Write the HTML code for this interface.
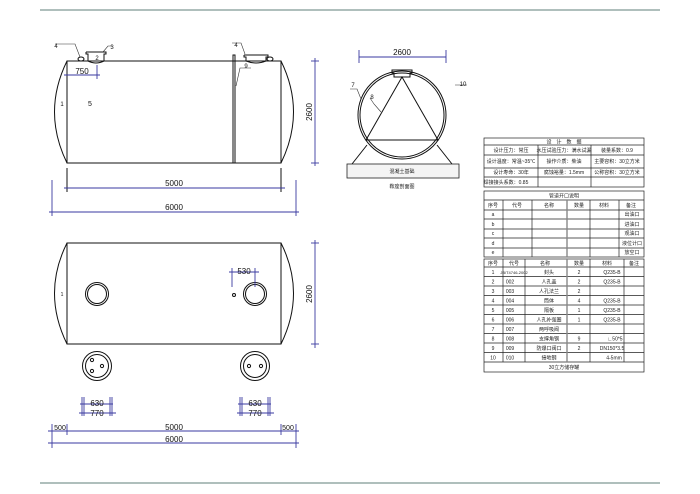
<!DOCTYPE html>
<html><head><meta charset="utf-8"><style>
html,body{margin:0;padding:0;background:#fff;}
svg{display:block;font-family:"Liberation Sans","Noto Sans CJK SC",sans-serif;}
.k{stroke:#111;fill:none;stroke-width:1}
.b{stroke:#3a3aa0;fill:none;stroke-width:0.9}
.t{font-size:5px;fill:#222;text-anchor:middle}
.d{font-size:8px;fill:#111;text-anchor:middle}
.g{stroke:#333;stroke-width:0.6;fill:none}
</style></head><body>
<svg width="700" height="494" viewBox="0 0 700 494">
<line x1="40" y1="10" x2="660" y2="10" stroke="#5f7f7a" stroke-width="1"/>
<line x1="40" y1="483" x2="660" y2="483" stroke="#5f7f7a" stroke-width="1"/>

<!-- TOP TANK -->
<rect class="k" x="67" y="61" width="214" height="102"/>
<path class="k" d="M67 61 Q42 112 67 163 M281 61 Q306 112 281 163"/>
<rect class="k" x="233" y="55" width="2" height="108" fill="#fff"/>
<path class="k" d="M86 52 L106 52 L106 54 L104 54 L104 61 M86 52 L86 54 L88 54 L88 61"/>
<path class="k" d="M88 61 Q96 65 104 61"/>
<ellipse class="k" cx="81" cy="59" rx="3" ry="2"/>
<path class="k" d="M244 55 L268 55 L268 57 L266 57 L266 61 M244 55 L244 57 L246 57 L246 61"/>
<path class="k" d="M246 61 Q256 65 266 61"/>
<ellipse class="k" cx="270" cy="59" rx="3" ry="2"/>
<path class="g" d="M55 44 L75 44 L80 57 M103 52 L108 46 L112 46 M232 43 L241 43 L245 54 M236 86 L240 68 L251 68"/>
<text x="56" y="48" class="d" style="font-size:6px">4</text>
<text x="112" y="49" class="d" style="font-size:6px">3</text>
<text x="97" y="60" class="d" style="font-size:6px">2</text>
<text x="236" y="47" class="d" style="font-size:6px">4</text>
<text x="246" y="68" class="d" style="font-size:6px">9</text>
<text x="62" y="106" class="d" style="font-size:6px">1</text>
<text x="90" y="106" class="d" style="font-size:7px">5</text>
<!-- 750 -->
<line class="b" x1="64" y1="75" x2="100" y2="75"/><line class="b" x1="97" y1="65" x2="97" y2="79"/>
<text x="82" y="74" class="d">750</text>
<!-- 2600 -->
<line class="b" x1="315" y1="58" x2="315" y2="166"/>
<line class="b" x1="311" y1="61" x2="319" y2="61"/><line class="b" x1="311" y1="163" x2="319" y2="163"/>
<text x="0" y="0" class="d" transform="translate(312,112) rotate(-90)">2600</text>
<!-- 5000 / 6000 -->
<line class="k" x1="67" y1="168" x2="67" y2="192" stroke-width="0.6"/><line class="k" x1="281" y1="168" x2="281" y2="192" stroke-width="0.6"/>
<line class="b" x1="64" y1="188" x2="285" y2="188"/>
<text x="174" y="186" class="d">5000</text>
<line class="b" x1="52" y1="180" x2="52" y2="216"/><line class="b" x1="296" y1="180" x2="296" y2="216"/>
<line class="b" x1="49" y1="212" x2="299" y2="212"/>
<text x="174" y="210" class="d">6000</text>

<!-- BOTTOM TANK -->
<rect class="k" x="67" y="243" width="214" height="101"/>
<path class="k" d="M67 243 Q42 293 67 344 M281 243 Q306 293 281 344"/>
<circle class="k" cx="97" cy="294" r="11.5"/><circle class="k" cx="97" cy="294" r="9.5"/>
<circle class="k" cx="255" cy="294" r="11.5"/><circle class="k" cx="255" cy="294" r="9.5"/>
<circle class="k" cx="234" cy="295" r="1.5"/>
<text x="62" y="296" class="d" style="font-size:5px">1</text>
<line class="b" x1="229" y1="272" x2="259" y2="272"/><line class="b" x1="232" y1="268" x2="232" y2="287"/><line class="b" x1="255" y1="268" x2="255" y2="287"/>
<text x="244" y="274" class="d">530</text>
<line class="b" x1="315" y1="240" x2="315" y2="348"/>
<line class="b" x1="311" y1="243" x2="319" y2="243"/><line class="b" x1="311" y1="344" x2="319" y2="344"/>
<text x="0" y="0" class="d" transform="translate(312,294) rotate(-90)">2600</text>
<circle class="k" cx="97" cy="366" r="14.5"/><circle class="k" cx="97" cy="366" r="11.5"/>
<circle class="k" cx="92" cy="360" r="1.6"/><circle class="k" cx="92" cy="371" r="1.6"/><circle class="k" cx="102" cy="366" r="1.6"/>
<circle class="k" cx="255" cy="366" r="14.5"/><circle class="k" cx="255" cy="366" r="11.5"/>
<circle class="k" cx="249" cy="366" r="1.6"/><circle class="k" cx="261" cy="366" r="1.6"/>
<!-- 630/770 left -->
<line class="b" x1="80" y1="404" x2="113" y2="404"/><line class="b" x1="79" y1="413" x2="116" y2="413"/>
<line class="b" x1="82" y1="397" x2="82" y2="416"/><line class="b" x1="84" y1="397" x2="84" y2="416"/>
<line class="b" x1="110" y1="397" x2="110" y2="416"/><line class="b" x1="112" y1="397" x2="112" y2="416"/>
<text x="97" y="406" class="d">630</text><text x="97" y="416" class="d">770</text>
<line class="b" x1="238" y1="404" x2="271" y2="404"/><line class="b" x1="237" y1="413" x2="274" y2="413"/>
<line class="b" x1="240" y1="397" x2="240" y2="416"/><line class="b" x1="242" y1="397" x2="242" y2="416"/>
<line class="b" x1="268" y1="397" x2="268" y2="416"/><line class="b" x1="270" y1="397" x2="270" y2="416"/>
<text x="255" y="406" class="d">630</text><text x="255" y="416" class="d">770</text>
<!-- 500/5000/500/6000 -->
<line class="b" x1="48" y1="431" x2="299" y2="431"/>
<line class="b" x1="52" y1="424" x2="52" y2="448"/><line class="b" x1="67" y1="424" x2="67" y2="435"/>
<line class="b" x1="281" y1="424" x2="281" y2="435"/><line class="b" x1="296" y1="424" x2="296" y2="448"/>
<text x="60" y="430" class="d" style="font-size:7px">500</text>
<text x="288" y="430" class="d" style="font-size:7px">500</text>
<text x="174" y="430" class="d">5000</text>
<line class="b" x1="48" y1="443" x2="299" y2="443"/>
<text x="174" y="442" class="d">6000</text>

<!-- SECTION -->
<line class="b" x1="359" y1="57" x2="446" y2="57"/>
<line class="b" x1="359" y1="50" x2="359" y2="63"/><line class="b" x1="446" y1="50" x2="446" y2="63"/>
<text x="402" y="55" class="d">2600</text>
<circle class="k" cx="402" cy="115" r="44"/><circle class="k" cx="402" cy="115" r="42"/>
<path class="k" d="M392 70 L412 70 L412 73 L410 73 L410 77 L394 77 L394 73 L392 73 Z"/>
<path class="k" d="M402 77 L366 140 L438 140 Z"/>
<path class="k" d="M367 145 L352 164 M437 145 L452 164"/>
<rect x="347" y="164" width="112" height="14" fill="#f4f4f4" stroke="#222" stroke-width="0.8"/>
<text x="402" y="173" class="t">混凝土基础</text>
<text x="402" y="188" class="t">鞍座剖面图</text>
<path class="g" d="M350 89 L357 89 L361 99 M370 98 L374 104 L381 112 M455 85 L467 85"/>
<text x="353" y="87" class="d" style="font-size:6px">7</text>
<text x="372" y="99" class="d" style="font-size:6px">8</text>
<text x="463" y="86" class="d" style="font-size:6px">10</text>

<!-- TABLE 1 -->
<g stroke="#222" stroke-width="0.7" fill="none">
<rect x="484" y="138" width="160" height="49"/>
<line x1="484" y1="145" x2="644" y2="145"/><line x1="484" y1="155" x2="644" y2="155"/>
<line x1="484" y1="168" x2="644" y2="168"/><line x1="484" y1="177" x2="644" y2="177"/>
<line x1="538" y1="145" x2="538" y2="187"/><line x1="591" y1="145" x2="591" y2="187"/>
</g>
<text x="564" y="143.5" class="t">设　计　数　据</text>
<text x="511" y="152" class="t">设计压力：常压</text><text x="564" y="152" class="t">水压试验压力：满水试漏</text><text x="617" y="152" class="t">装量系数：0.9</text>
<text x="511" y="163" class="t">设计温度：常温~35℃</text><text x="564" y="163" class="t">操作介质：柴油</text><text x="617" y="163" class="t">主要容积：30立方米</text>
<text x="511" y="174" class="t">设计寿命：30年</text><text x="564" y="174" class="t">腐蚀裕量：1.5mm</text><text x="617" y="174" class="t">公称容积：30立方米</text>
<text x="506" y="184" class="t">焊接接头系数：0.85</text>

<!-- TABLE 2 -->
<g stroke="#222" stroke-width="0.7" fill="none">
<rect x="484" y="191" width="160" height="66"/>
<line x1="484" y1="200" x2="644" y2="200"/><line x1="484" y1="210" x2="644" y2="210"/>
<line x1="484" y1="219" x2="644" y2="219"/><line x1="484" y1="229" x2="644" y2="229"/>
<line x1="484" y1="238" x2="644" y2="238"/><line x1="484" y1="248" x2="644" y2="248"/>
<line x1="503" y1="200" x2="503" y2="257"/><line x1="532" y1="200" x2="532" y2="257"/>
<line x1="567" y1="200" x2="567" y2="257" stroke-width="1.4" stroke="#888"/><line x1="590" y1="200" x2="590" y2="257"/>
<line x1="619" y1="200" x2="619" y2="257"/>
</g>
<text x="564" y="197.5" class="t">管道开口说明</text>
<text x="493" y="207" class="t">序号</text><text x="517" y="207" class="t">代号</text><text x="549" y="207" class="t">名称</text><text x="579" y="207" class="t">数量</text><text x="604" y="207" class="t">材料</text><text x="631" y="207" class="t">备注</text>
<text x="493" y="216" class="t">a</text><text x="632" y="216" class="t">出油口</text>
<text x="493" y="226" class="t">b</text><text x="632" y="226" class="t">进油口</text>
<text x="493" y="235" class="t">c</text><text x="632" y="235" class="t">观油口</text>
<text x="493" y="245" class="t">d</text><text x="632" y="245" class="t">液位计口</text>
<text x="493" y="254" class="t">e</text><text x="632" y="254" class="t">放空口</text>

<!-- TABLE 3 -->
<g stroke="#222" stroke-width="0.7" fill="none">
<rect x="484" y="259" width="160" height="113"/>
<line x1="484" y1="267" x2="644" y2="267"/><line x1="484" y1="276.5" x2="644" y2="276.5"/>
<line x1="484" y1="286" x2="644" y2="286"/><line x1="484" y1="295.5" x2="644" y2="295.5"/>
<line x1="484" y1="305" x2="644" y2="305"/><line x1="484" y1="314.5" x2="644" y2="314.5"/>
<line x1="484" y1="324" x2="644" y2="324"/><line x1="484" y1="333.5" x2="644" y2="333.5"/>
<line x1="484" y1="343" x2="644" y2="343"/><line x1="484" y1="352.5" x2="644" y2="352.5"/>
<line x1="484" y1="362" x2="644" y2="362"/>
<line x1="503" y1="259" x2="503" y2="362"/><line x1="525" y1="259" x2="525" y2="362"/>
<line x1="567" y1="259" x2="567" y2="362" stroke-width="1.4" stroke="#888"/><line x1="590" y1="259" x2="590" y2="362"/>
<line x1="624" y1="259" x2="624" y2="362"/>
</g>
<text x="493" y="265" class="t">序号</text><text x="514" y="265" class="t">代号</text><text x="545" y="265" class="t">名称</text><text x="579" y="265" class="t">数量</text><text x="607" y="265" class="t">材料</text><text x="634" y="265" class="t">备注</text>
<g class="t">
<text x="493" y="274">1</text><text x="514" y="274" style="font-size:4px">JB/T4746-2002</text><text x="549" y="274">封头</text><text x="579" y="274">2</text><text x="612" y="274">Q235-B</text>
<text x="493" y="283.5">2</text><text x="510" y="283.5">002</text><text x="549" y="283.5">人孔盖</text><text x="579" y="283.5">2</text><text x="612" y="283.5">Q235-B</text>
<text x="493" y="293">3</text><text x="510" y="293">003</text><text x="549" y="293">人孔法兰</text><text x="579" y="293">2</text>
<text x="493" y="302.5">4</text><text x="510" y="302.5">004</text><text x="549" y="302.5">筒体</text><text x="579" y="302.5">4</text><text x="612" y="302.5">Q235-B</text>
<text x="493" y="312">5</text><text x="510" y="312">005</text><text x="549" y="312">隔板</text><text x="579" y="312">1</text><text x="612" y="312">Q235-B</text>
<text x="493" y="321.5">6</text><text x="510" y="321.5">006</text><text x="549" y="321.5">人孔补强圈</text><text x="579" y="321.5">1</text><text x="612" y="321.5">Q235-B</text>
<text x="493" y="331">7</text><text x="510" y="331">007</text><text x="549" y="331">两呼吸阀</text>
<text x="493" y="340.5">8</text><text x="510" y="340.5">008</text><text x="549" y="340.5">支撑角钢</text><text x="579" y="340.5">9</text><text x="615" y="340.5">∟50*5</text>
<text x="493" y="350">9</text><text x="510" y="350">009</text><text x="549" y="350">防爆口阀口</text><text x="579" y="350">2</text><text x="612" y="350">DN150*3.5</text>
<text x="493" y="359.5">10</text><text x="510" y="359.5">010</text><text x="549" y="359.5">接地钢</text><text x="614" y="359.5">4-5mm</text>
<text x="564" y="369">30立方储存罐</text>
</g>
</svg>
</body></html>
